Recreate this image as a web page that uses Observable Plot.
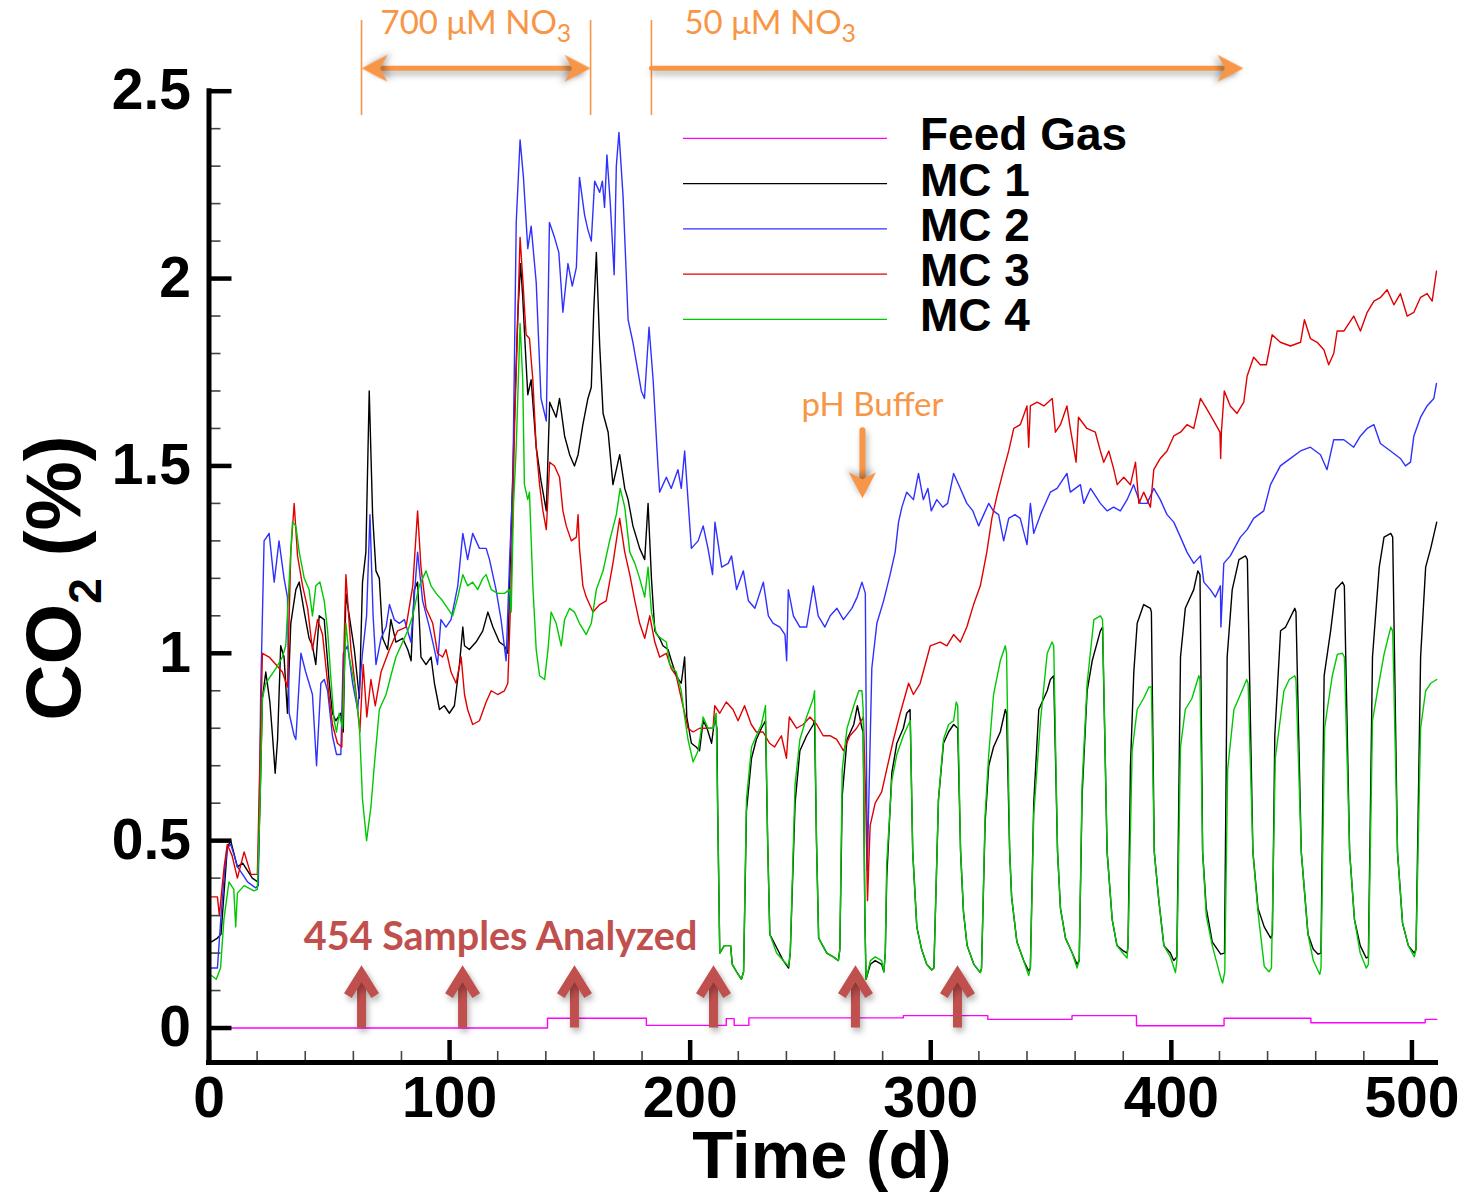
<!DOCTYPE html>
<html><head><meta charset="utf-8">
<script src="https://cdn.jsdelivr.net/npm/d3@7"></script>
<script src="https://cdn.jsdelivr.net/npm/@observablehq/plot@0.6"></script>
<style>
html,body{margin:0;padding:0;background:#fff;}
#chart{position:relative;width:1468px;height:1194px;}
</style></head><body><div id="chart"></div>
<script>
// ---------------- DATA ----------------
const seriesNames = ["Feed Gas", "MC 1", "MC 2", "MC 3", "MC 4"];
const seriesColors = ["#ff00ff", "#000000", "#3030ff", "#e00000", "#00c800"];

const feedGas = [[0,0],[140.7,0],[140.7,0.026],[181.8,0.026],[181.8,0.007],[215,0.007],[215,0.025],[218.3,0.025],[218.3,0.007],[224.4,0.007],[224.4,0.027],[288.6,0.027],[288.6,0.033],[323.7,0.033],[323.7,0.023],[358.7,0.023],[358.7,0.033],[385.5,0.033],[385.5,0.006],[421.9,0.006],[421.9,0.026],[458,0.026],[458,0.014],[505.5,0.014],[505.5,0.023],[510.3,0.023]];

const mc1 = [[1,0.23],[3.5,0.24],[5,0.25],[7.6,0.48],[9,0.50],[11.8,0.43],[14,0.44],[16,0.42],[18,0.40],[20.3,0.39],[21.2,0.60],[22.2,0.88],[23.6,0.95],[25.3,0.87],[26.4,0.78],[27.5,0.68],[28.5,0.77],[29.8,1.02],[31.2,0.99],[32.6,0.84],[34,1.08],[36.1,1.17],[37.5,1.19],[39.6,1.11],[41.6,1.04],[43,1.02],[44.4,0.97],[45.8,1.10],[47.9,1.09],[50,0.92],[51.3,0.84],[52.7,0.82],[54.8,0.84],[55.8,0.79],[56.9,1.16],[58.3,1.10],[60.4,1.01],[62.5,0.88],[63.8,1.19],[65.2,1.27],[66.6,1.70],[68,1.37],[69.4,1.22],[70.8,1.20],[72.2,1.04],[74.2,1.01],[75.6,1.09],[77.7,1.03],[80.5,1.04],[82.6,1.01],[84,0.98],[85.3,1.17],[86.7,1.19],[88.1,0.99],[90.2,0.97],[92.3,0.99],[93.7,0.92],[95.8,0.85],[97.8,0.86],[99.9,0.84],[102,0.86],[104.1,0.97],[105.5,1.07],[106.2,1.02],[108.2,1.01],[111,1.03],[113.8,1.06],[115.9,1.11],[118,1.07],[120.7,1.03],[122.8,1.02],[124.2,1.0],[125.2,1.24],[127,1.64],[128.4,1.91],[129.5,2.04],[130.4,1.95],[131.5,1.81],[132.5,1.69],[133.9,1.73],[136,1.55],[138,1.46],[140.2,1.38],[141.6,1.67],[144.3,1.63],[145.7,1.68],[147.8,1.58],[149.9,1.53],[151.9,1.50],[153.4,1.53],[155.4,1.61],[157.5,1.68],[158.9,1.71],[159.9,1.91],[161,2.07],[162.4,1.82],[163.8,1.64],[165.9,1.59],[167.9,1.45],[168.6,1.47],[170.7,1.53],[172.8,1.44],[174.2,1.41],[176.2,1.34],[179,1.28],[181.1,1.25],[182.5,1.40],[183.9,1.20],[185.3,1.06],[187.3,1.04],[188.7,1.02],[190.8,1.01],[192.2,0.98],[194.2,0.94],[196.3,0.92],[197.7,0.99],[198.6,0.83],[200.5,0.76],[202.5,0.75],[203.9,0.74],[205.4,0.82],[207,0.80],[208.9,0.76],[210.3,0.83],[211.1,0.80],
[211.4,0.60],[212.3,0.20],[214.2,0.22],[216.8,0.22],[217.5,0.17],[219.3,0.15],[221.3,0.13],[222.2,0.15],[223.4,0.58],[225.5,0.72],[227.5,0.77],[229.6,0.80],[231.3,0.82],
[232.2,0.50],[233.1,0.25],[235.9,0.215],[238.7,0.18],[240.9,0.16],[241.6,0.20],[243.6,0.60],[245.6,0.74],[248.4,0.78],[251.2,0.81],[251.7,0.82],
[252.5,0.50],[253.4,0.24],[256.8,0.20],[259.5,0.19],[261.6,0.18],[262.2,0.21],[263.2,0.62],[265.2,0.77],[268,0.81],[269.5,0.86],[271.4,0.80],[271.9,0.79],
[272.6,0.30],[273.1,0.13],[274.9,0.17],[276.9,0.18],[279.6,0.17],[280.5,0.15],[281.1,0.20],[281.7,0.40],[283.8,0.68],[285.9,0.76],[288.6,0.80],[290,0.84],[291.4,0.85],
[292.5,0.47],[294.2,0.27],[296.2,0.21],[298.3,0.17],[300.4,0.155],[301.3,0.16],[303.2,0.61],[305.3,0.76],[307.4,0.79],[309.5,0.81],[311.2,0.80],
[312.4,0.47],[313.6,0.31],[315.1,0.22],[317.9,0.17],[320.6,0.148],[321.1,0.16],[322.6,0.55],[324.1,0.70],[326.1,0.75],[328.9,0.79],[331,0.85],[331.5,0.84],
[332.8,0.47],[333.6,0.35],[335.8,0.23],[338.6,0.18],[340.7,0.152],[341.4,0.16],[342.8,0.60],[344.9,0.85],[348.4,0.90],[349.7,0.93],[351.1,0.94],
[352.7,0.47],[353.9,0.32],[356,0.24],[358.8,0.20],[360.8,0.17],[361.7,0.18],[362.9,0.62],[365,0.90],[367.1,0.98],[370.5,1.06],[371.4,1.07],
[373.3,0.47],[375.4,0.29],[377.4,0.22],[380.2,0.205],[381.6,0.20],[382,0.22],[383,0.70],[384.4,0.95],[385.8,1.08],[388.5,1.13],[391.3,1.12],[391.7,1.11],
[392.9,0.47],[394.8,0.34],[396.9,0.22],[399.6,0.20],[401,0.18],[402.3,0.19],[403.8,0.99],[405.8,1.12],[409.3,1.17],[411,1.22],[411.9,1.21],
[413,0.47],[414.5,0.32],[417,0.23],[420.5,0.197],[422.1,0.20],[423.2,0.99],[425.3,1.17],[428.1,1.25],[430.8,1.26],[431.6,1.25],
[433.9,0.47],[436,0.32],[438.6,0.27],[441.3,0.24],[442,0.25],[443,0.78],[445.4,1.06],[447.5,1.07],[451.3,1.12],[451.8,1.11],
[454,0.47],[456.8,0.25],[459,0.21],[461,0.197],[462.2,0.20],[463.5,0.94],[466.2,1.06],[468.3,1.17],[471.1,1.19],[471.9,1.18],
[474.1,0.47],[476.1,0.29],[478.5,0.22],[481,0.187],[481.9,0.19],[483.6,0.99],[486.4,1.23],[488.4,1.31],[491.2,1.32],[492,1.31],
[494,0.47],[496.1,0.28],[498.5,0.22],[501,0.20],[501.7,0.21],[503.6,0.99],[505.7,1.23],[507.8,1.28],[510.3,1.35]];

const mc2 = [[1,0.16],[3.5,0.16],[4.9,0.29],[6.5,0.42],[7.6,0.48],[9,0.49],[10.5,0.46],[11.8,0.43],[14,0.41],[16,0.39],[19.4,0.374],[20.5,0.38],[21.5,0.9],[22.9,1.30],[25,1.32],[27.1,1.19],[29.1,1.30],[31.2,1.20],[32.6,1.15],[33.3,0.84],[35.4,0.78],[36.1,0.77],[38.2,1.0],[40.2,0.95],[43,0.89],[44.7,0.70],[46.5,0.92],[47.9,0.93],[49.3,0.90],[51.3,0.78],[53,0.73],[54.8,0.73],[55.8,1.0],[57.6,1.02],[59.7,0.92],[61.8,0.85],[63.8,1.0],[65.5,1.10],[66.9,1.37],[68.2,1.10],[69.4,0.97],[71.5,1.04],[73.6,1.07],[75,1.13],[77,1.09],[79.1,1.08],[81.2,1.09],[83.9,1.03],[86.7,1.27],[88.8,1.14],[91.6,1.07],[93.7,1.01],[95,0.97],[96.4,1.09],[98.5,1.07],[100.6,1.09],[103.4,1.18],[105.5,1.32],[107.5,1.25],[109.6,1.32],[112.4,1.28],[115.2,1.28],[116.6,1.25],[119.3,1.17],[121.4,1.09],[123.5,0.98],[124.9,1.24],[126.3,1.46],[127.7,2.15],[129.3,2.37],[130.7,2.27],[132.5,2.08],[133.9,2.14],[136,1.99],[138,1.68],[140.2,1.62],[141.5,2.15],[143.6,2.11],[145.4,2.07],[147.1,1.91],[149.2,2.04],[151,1.98],[152.7,2.03],[154,2.27],[156.1,2.17],[157.5,2.13],[158.9,2.10],[160.3,2.26],[162.4,2.23],[163.5,2.26],[164.4,2.19],[165.4,2.33],[166.8,2.20],[168.4,2.01],[169.3,2.30],[170.4,2.39],[172.1,2.22],[174.2,1.89],[176.2,1.83],[179.7,1.70],[181,1.68],[182.9,1.87],[184.6,1.73],[186.6,1.50],[187.3,1.43],[190.1,1.47],[192.1,1.44],[194.9,1.49],[196.3,1.44],[197.7,1.54],[200.5,1.28],[203.3,1.30],[205.4,1.34],[207.4,1.28],[209.3,1.21],[210.3,1.35],[213.1,1.23],[215.8,1.24],[217.2,1.26],[219.3,1.17],[222.1,1.22],[224.2,1.14],[226.9,1.12],[230.4,1.19],[232.5,1.10],[234.5,1.08],[237.3,1.07],[239.4,1.05],[240.1,0.98],[240.8,1.17],[242.9,1.10],[245.6,1.07],[248.4,1.07],[251.2,1.18],[253.2,1.10],[256,1.07],[258.2,1.10],[261,1.12],[263.7,1.09],[267.2,1.12],[269.4,1.15],[271.4,1.19],[272.8,1.16],[273.6,0.42],[275.5,0.96],[277.6,1.08],[280.4,1.14],[283.1,1.21],[285.2,1.27],[286.6,1.35],[288,1.39],[290,1.43],[292.8,1.41],[294.9,1.48],[296.9,1.41],[298.8,1.44],[300.2,1.38],[302.5,1.41],[305,1.39],[307,1.40],[309.5,1.48],[312.3,1.44],[315,1.40],[317.5,1.38],[319.9,1.34],[322,1.37],[324.1,1.40],[326,1.38],[328.2,1.37],[330.3,1.30],[332.4,1.36],[335,1.37],[337.2,1.36],[340,1.29],[341.4,1.40],[342.8,1.32],[345.6,1.37],[349.7,1.43],[352.5,1.44],[356.6,1.48],[358,1.43],[362.2,1.45],[363.6,1.40],[366.4,1.44],[370.5,1.40],[373.3,1.38],[376,1.39],[378.8,1.38],[381.6,1.41],[384.3,1.45],[387.1,1.40],[389.9,1.40],[392.7,1.44],[395.4,1.41],[398.2,1.37],[401,1.35],[403.8,1.31],[406.5,1.27],[409.3,1.24],[412.1,1.26],[413.5,1.19],[416.2,1.17],[418.3,1.15],[420.4,1.18],[420.6,1.07],[421.8,1.24],[424.5,1.26],[428.7,1.31],[431.5,1.33],[434.2,1.36],[438.4,1.38],[441.2,1.45],[445.3,1.50],[449.5,1.52],[453.7,1.54],[457.8,1.55],[462,1.53],[464.7,1.49],[467.5,1.57],[471.7,1.57],[475.8,1.55],[478.6,1.58],[481.4,1.60],[484.2,1.61],[486.9,1.56],[491.1,1.54],[495.2,1.52],[497.3,1.50],[499.4,1.51],[500.8,1.58],[503.6,1.63],[506.3,1.66],[509.1,1.68],[510.2,1.72]];

const mc3 = [[1,0.35],[3.5,0.35],[4.3,0.30],[5.5,0.38],[6.3,0.43],[7.6,0.49],[9.6,0.46],[11.8,0.40],[14.6,0.47],[17.4,0.41],[20.1,0.41],[21.3,0.75],[22.2,1.0],[25,0.99],[27.8,0.97],[30.5,0.95],[32.6,0.91],[34,1.27],[35.4,1.40],[36.8,1.26],[38.9,1.18],[41,1.12],[43,1.01],[45.1,1.09],[47.2,1.05],[49.3,0.92],[51.3,0.81],[53.4,0.76],[55.2,0.75],[56.2,1.04],[56.9,1.21],[59,1.01],[61,0.90],[62.7,0.79],[64.1,0.97],[65.6,0.83],[67.3,0.93],[69.1,0.86],[71.5,0.95],[75,1.01],[78.4,1.06],[81.9,1.07],[84.7,1.18],[86.7,1.38],[88.1,1.23],[90.2,1.12],[93,1.08],[95,1.0],[97.1,0.99],[98.5,1.01],[100.6,0.95],[102.7,0.92],[104.8,0.99],[106.2,0.89],[107.5,0.85],[109.6,0.81],[112.4,0.82],[115.2,0.87],[117.3,0.90],[120,0.89],[122.8,0.90],[124.2,0.92],[125.6,1.18],[127,1.60],[128.4,1.91],[129.3,2.11],[130.4,2.00],[131.8,1.85],[133.2,1.84],[134.6,1.73],[136,1.55],[137.4,1.45],[138.8,1.38],[140.2,1.33],[141.6,1.51],[143.6,1.50],[145.7,1.47],[147.1,1.38],[148.5,1.34],[150.6,1.30],[152.7,1.31],[153.4,1.37],[154,1.28],[155.4,1.18],[156.8,1.15],[159.6,1.11],[162.4,1.13],[165.1,1.14],[167.9,1.24],[170.7,1.36],[172.8,1.27],[174.9,1.21],[177,1.14],[179,1.08],[181.1,1.04],[183.2,1.10],[185.3,1.03],[187.3,0.99],[190.1,1.0],[192.1,0.96],[194.2,0.94],[197,0.86],[199.1,0.80],[201.2,0.79],[203.9,0.80],[206.7,0.80],[209.5,0.80],[210.2,0.86],[212.3,0.84],[215,0.87],[217.8,0.85],[219.9,0.82],[222.6,0.86],[225.4,0.81],[227.5,0.79],[230.3,0.79],[233,0.76],[235.1,0.75],[237.9,0.78],[240,0.72],[241.2,0.83],[244.2,0.80],[247,0.81],[249.8,0.83],[252.6,0.81],[255.3,0.78],[258.1,0.78],[260.9,0.77],[263.7,0.74],[266.4,0.78],[269.2,0.80],[272,0.83],[273,0.60],[273.7,0.34],[274.8,0.54],[276.9,0.60],[279.6,0.63],[281.7,0.69],[284.5,0.77],[287.3,0.84],[290.8,0.92],[292.8,0.89],[295.6,0.92],[299.8,1.02],[303.9,1.03],[306.7,1.02],[309.5,1.05],[312.3,1.03],[315,1.07],[317.8,1.13],[320.6,1.18],[323.3,1.27],[325.4,1.36],[327.5,1.42],[330.3,1.49],[332.4,1.54],[334.5,1.60],[337.2,1.61],[340,1.66],[340.7,1.55],[341.4,1.66],[344.2,1.67],[347,1.66],[350.5,1.68],[351.8,1.59],[353.9,1.61],[356.6,1.66],[358,1.60],[360.4,1.51],[361.4,1.63],[364.9,1.60],[368.4,1.59],[370.5,1.54],[371.9,1.51],[374,1.54],[376.1,1.49],[377.5,1.45],[380.2,1.47],[383,1.45],[385.1,1.51],[386.5,1.40],[388.5,1.43],[391.3,1.39],[392.7,1.49],[395.4,1.52],[398.2,1.54],[401,1.58],[403.8,1.59],[406.5,1.61],[409.3,1.60],[410.7,1.64],[412.1,1.68],[414.9,1.65],[417.6,1.62],[420.2,1.59],[420.5,1.52],[420.8,1.59],[422,1.70],[424.5,1.66],[427.3,1.64],[430.1,1.67],[431.5,1.74],[434.2,1.79],[437,1.77],[439.5,1.77],[441.9,1.85],[445.3,1.83],[449.5,1.82],[453.7,1.83],[455.3,1.89],[457.8,1.84],[460.6,1.83],[463.4,1.81],[465.4,1.77],[467.5,1.80],[468.9,1.86],[471.7,1.86],[475.8,1.90],[478.6,1.86],[481.4,1.91],[484.2,1.94],[487,1.95],[489.7,1.97],[492.5,1.93],[495.2,1.96],[498,1.90],[500.8,1.91],[503.6,1.95],[506.3,1.96],[508.4,1.94],[510.2,2.02]];

const mc4 = [[1,0.14],[3,0.13],[4.8,0.16],[6.2,0.29],[8.3,0.39],[10.3,0.37],[11.1,0.27],[11.8,0.36],[14.6,0.38],[18.7,0.366],[20.1,0.37],[21.2,0.60],[22.2,0.88],[23.6,0.92],[25.7,0.94],[27.8,0.96],[30.5,0.99],[31.9,1.02],[33.3,1.19],[34.7,1.35],[36.1,1.34],[37.5,1.27],[39.6,1.20],[41.6,1.17],[43,1.10],[44.4,1.18],[46.1,1.19],[47.9,1.14],[49.3,1.06],[50.7,0.93],[52,0.82],[53,0.79],[54.1,0.84],[55.5,0.80],[56.9,1.08],[58.3,0.99],[60.4,0.92],[62.5,0.81],[63.8,0.61],[65.5,0.50],[67.3,0.59],[68.7,0.70],[70.8,0.85],[73.6,0.89],[75.6,0.94],[77.7,0.99],[80.5,1.03],[82.6,1.06],[84.7,1.10],[86,1.14],[87.4,1.18],[90.2,1.22],[92.3,1.18],[94.4,1.16],[97.1,1.14],[99.2,1.12],[101.3,1.10],[103.4,1.15],[105.5,1.21],[107.5,1.18],[109.6,1.19],[111.7,1.17],[113.8,1.20],[115.2,1.21],[117.3,1.17],[120,1.16],[122.8,1.16],[124.9,1.17],[125.6,1.11],[126.6,1.40],[127.7,1.55],[129.3,1.88],[130.4,1.73],[131.1,1.45],[132.5,1.41],[133.2,1.43],[134.6,1.18],[136,1.01],[137.4,0.94],[139.5,0.93],[140.9,1.01],[142.2,1.11],[144.3,1.08],[146.4,1.02],[147.8,1.09],[149.9,1.12],[151.9,1.11],[154,1.08],[156.8,1.05],[158.9,1.08],[161,1.17],[163.8,1.22],[166.5,1.30],[169.3,1.37],[170.9,1.44],[172.8,1.39],[174.9,1.27],[177,1.24],[179,1.20],[181.1,1.15],[182.5,1.23],[183.9,1.11],[186,1.05],[187.9,1.04],[190.1,1.03],[191.5,0.97],[194.2,0.95],[196.3,0.90],[197.7,0.83],[199.1,0.77],[201.2,0.71],[203.3,0.74],[205.4,0.83],[207.4,0.80],[209.5,0.80],[210.8,0.84],
[211.4,0.60],[212.3,0.20],[214.2,0.22],[216.8,0.22],[217.5,0.17],[219.3,0.15],[221.3,0.13],[222.2,0.15],[223.4,0.61],[225.5,0.75],[227.5,0.78],[229.6,0.81],[231.3,0.86],
[232.2,0.50],[233.1,0.25],[235.9,0.20],[238.7,0.18],[240.9,0.165],[241.6,0.20],[243.6,0.65],[245.6,0.77],[248.4,0.83],[251.2,0.88],[251.7,0.90],
[252.5,0.50],[253.4,0.24],[256.8,0.20],[259.5,0.19],[261.6,0.18],[262.2,0.21],[263.2,0.69],[265.2,0.80],[268,0.86],[270.1,0.90],[271.4,0.90],[271.9,0.85],
[272.6,0.30],[273.1,0.13],[274.9,0.18],[276.9,0.19],[279.6,0.18],[280.5,0.15],[281.1,0.20],[281.7,0.44],[283.8,0.66],[285.9,0.73],[288.6,0.78],[290.7,0.81],[291.5,0.82],
[292.5,0.47],[294.2,0.27],[296.2,0.21],[298.3,0.17],[300.4,0.155],[301.3,0.16],[303.2,0.61],[305.3,0.77],[307.4,0.81],[309.5,0.82],[310.6,0.87],[311.2,0.86],
[312.4,0.47],[313.6,0.31],[315.1,0.22],[317.9,0.17],[320.6,0.148],[321.1,0.16],[322.6,0.57],[324.1,0.73],[326.1,0.89],[328.9,0.98],[331,1.02],[331.5,1.0],
[332.8,0.47],[333.6,0.35],[335.8,0.23],[338.6,0.18],[340.7,0.14],[341.4,0.16],[342.8,0.57],[345.6,0.82],[348.4,1.0],[350.4,1.03],[351.1,1.02],
[352.7,0.47],[353.9,0.32],[356,0.24],[358.8,0.20],[360.8,0.16],[361.7,0.18],[362.9,0.65],[365,0.92],[367.8,1.09],[370.5,1.10],[371.4,1.09],
[373.3,0.47],[375.4,0.29],[377.4,0.22],[380.2,0.197],[381.6,0.187],[382,0.22],[383.7,0.74],[385.8,0.85],[388.5,0.88],[390.7,0.91],[391.7,0.91],
[392.9,0.47],[394.8,0.34],[396.9,0.22],[399.6,0.19],[401.7,0.148],[402.3,0.18],[403.8,0.75],[405.8,0.85],[408.6,0.88],[411.4,0.94],[411.9,0.93],
[413,0.47],[414.5,0.30],[417,0.22],[420.5,0.135],[421.3,0.12],[422.2,0.15],[423.4,0.69],[426,0.85],[428.7,0.89],[431.3,0.93],[431.9,0.92],
[433.9,0.47],[436,0.31],[438.6,0.165],[440.6,0.15],[441.6,0.16],[443.2,0.72],[446.8,0.90],[449,0.93],[451.3,0.94],[451.8,0.93],
[454,0.47],[456.8,0.25],[459,0.18],[461.7,0.143],[462.2,0.16],[463.7,0.80],[464.8,0.85],[466.9,0.94],[469,0.997],[471.1,1.00],[471.9,0.99],
[474.1,0.47],[476.1,0.29],[478.5,0.20],[481,0.16],[481.9,0.17],[483.6,0.82],[485.7,0.90],[488.4,0.997],[491.2,1.07],[492,1.06],
[494,0.47],[496.1,0.28],[498.5,0.22],[501,0.19],[501.7,0.21],[503.6,0.80],[505.7,0.90],[507.8,0.92],[510.3,0.93]];

// axis ticks
const xDomain = [0, 510];
const yDomain = [-0.092, 2.5];
const xMajorTicks = [0, 100, 200, 300, 400, 500];
const xMinorTicks = d3.range(20, 500, 20).filter(d => d % 100 !== 0);
const yMajorTicks = [0, 0.5, 1, 1.5, 2, 2.5];
const yMinorTicks = d3.range(1, 25).filter(i => i % 5 !== 0).map(i => i / 10);

// annotations (data coordinates: days, CO2 %)
const nitrateBounds = [63.4, 158.6, 183.9];
const nitrateBoundTop = 2.689, nitrateBoundBottom = 2.435;
const nitrateArrowLevel = 2.561;
const nitrateLabels = ["700 μM NO", "50 μM NO"];
const nitrateSubscript = "3";
const nitrateLabelDays = [71.3, 197.6];
const nitrateLabelLevel = 2.652;
const nitrateDoubleArrow = [63.4, 158.6];
const nitrateSingleArrow = [183.9, 430.0];
const nitrateHeadDays = [63.4, 158.6, 430.0];
const nitrateHeadAngles = [-90, 90, 90];

const bufferLabel = "pH Buffer";
const bufferDay = 271.6;
const bufferLabelDay = 275.8;
const bufferLabelLevel = 1.633;
const bufferArrowFrom = 1.595, bufferArrowTo = 1.414;

const sampleDays = [63.4, 105.4, 151.9, 209.7, 268.7, 311.1];
const sampleArrowTip = 0.145;
const sampleLabel = "454 Samples Analyzed";
const sampleLabelDay = 121.2, sampleLabelLevel = 0.207;

// ---------------- BUILD ----------------
const series = [feedGas, mc1, mc2, mc3, mc4];
const rows = series.flatMap((arr, i) => arr.map(([x, y]) => ({x, y, s: seriesNames[i]})));

const ORANGE = "#f79646", BRICK = "#c0504d";
const W = 1468, H = 1194, ML = 208.5, MR = 32.5, MT = 90.7, MB = 132;
const FW = W - ML - MR, FH = H - MT - MB;
const SANS = "'Liberation Sans', Arial, sans-serif";
const HUMANIST = "Lato, 'Open Sans', sans-serif";

const stealth = {draw(ctx, size) {
  const r = Math.sqrt(size / Math.PI);
  ctx.moveTo(0, 0); ctx.lineTo(r * 0.52, r); ctx.lineTo(0, r * 0.72); ctx.lineTo(-r * 0.52, r); ctx.closePath();
}};
const chevron = {draw(ctx, size) {
  const r = Math.sqrt(size / Math.PI);
  ctx.moveTo(-r * 0.62, r); ctx.lineTo(0, 0); ctx.lineTo(r * 0.62, r);
}};
const tagOrange = () => "orange-arrow";
const tagBrick = () => "brick-arrow";

const svg = Plot.plot({
  width: W, height: H,
  marginLeft: ML, marginRight: MR, marginTop: MT, marginBottom: MB,
  x: {domain: xDomain, axis: null},
  y: {domain: yDomain, axis: null},
  color: {domain: seriesNames, range: seriesColors},
  style: {fontFamily: SANS, background: "#fff", color: "#000"},
  marks: [
    Plot.line(rows, {x: "x", y: "y", z: "s", stroke: "s", strokeWidth: 1.4}),
    // ticks
    Plot.tickY(yMinorTicks, {y: d => d, stroke: "#444", strokeWidth: 1.6, insetRight: FW - 12}),
    Plot.tickY(yMajorTicks, {y: d => d, stroke: "#000", strokeWidth: 4.5, insetRight: FW - 23}),
    Plot.tickX(xMinorTicks, {x: d => d, stroke: "#444", strokeWidth: 1.6, insetTop: FH - 11}),
    Plot.tickX(xMajorTicks, {x: d => d, stroke: "#000", strokeWidth: 4.5, insetTop: FH - 22}),
    // spines
    Plot.ruleX([xDomain[0]], {stroke: "#000", strokeWidth: 5, strokeLinecap: "square"}),
    Plot.ruleY([yDomain[0]], {stroke: "#000", strokeWidth: 5, strokeLinecap: "square"}),
    // tick labels
    Plot.axisY({ticks: yMajorTicks, tickSize: 0, tickPadding: 18, tickFormat: d => String(d), fontSize: 57, fontWeight: "bold", label: null}),
    Plot.axisX({ticks: xMajorTicks, tickSize: 0, tickPadding: 14, tickFormat: d => String(d), fontSize: 57, fontWeight: "bold", label: null}),
    // nitrate annotations
    Plot.ruleX(nitrateBounds, {x: d => d, y1: nitrateBoundBottom, y2: nitrateBoundTop, stroke: ORANGE, strokeWidth: 1.6}),
    Plot.arrow([nitrateDoubleArrow], {x1: d => d[0], x2: d => d[1], y1: nitrateArrowLevel, y2: nitrateArrowLevel, stroke: ORANGE, strokeWidth: 5, headLength: 0, insetStart: 12, insetEnd: 12, ariaLabel: tagOrange}),
    Plot.arrow([nitrateSingleArrow], {x1: d => d[0], x2: d => d[1], y1: nitrateArrowLevel, y2: nitrateArrowLevel, stroke: ORANGE, strokeWidth: 5, headLength: 0, insetEnd: 12, ariaLabel: tagOrange}),
    Plot.dot(nitrateHeadDays, {x: d => d, y: nitrateArrowLevel, rotate: (d, i) => nitrateHeadAngles[i], symbol: stealth, r: 26, fill: ORANGE, stroke: "none", ariaLabel: tagOrange}),
    Plot.text(nitrateLabels, {x: (d, i) => nitrateLabelDays[i], y: nitrateLabelLevel, text: d => d, textAnchor: "start", lineAnchor: "bottom", fontSize: 33, fill: ORANGE, fontFamily: HUMANIST}),
    // pH buffer
    Plot.arrow([bufferDay], {x1: d => d, x2: d => d, y1: bufferArrowFrom, y2: bufferArrowTo, stroke: ORANGE, strokeWidth: 6, headLength: 0, insetEnd: 12, ariaLabel: tagOrange}),
    Plot.dot([bufferDay], {x: d => d, y: bufferArrowTo, rotate: 180, symbol: stealth, r: 26, fill: ORANGE, stroke: "none", ariaLabel: tagOrange}),
    Plot.text([bufferLabel], {x: bufferLabelDay, y: bufferLabelLevel, text: d => d, textAnchor: "middle", lineAnchor: "bottom", fontSize: 33, fill: ORANGE, fontFamily: HUMANIST}),
    // samples
    Plot.ruleX(sampleDays, {x: d => d, y1: 0, y2: sampleArrowTip, stroke: BRICK, strokeWidth: 9, ariaLabel: tagBrick}),
    Plot.dot(sampleDays, {x: d => d, y: sampleArrowTip, symbol: chevron, r: 22, fill: "none", stroke: BRICK, strokeWidth: 9, strokeLinejoin: "miter", ariaLabel: tagBrick}),
    Plot.text([sampleLabel], {x: sampleLabelDay, y: sampleLabelLevel, text: d => d, textAnchor: "middle", lineAnchor: "bottom", fontSize: 39.5, fontWeight: "bold", fill: BRICK, fontFamily: HUMANIST})
  ]
});

const g = d3.select(svg);
// subscripts for NO3
g.selectAll("text").filter(function() { return nitrateLabels.includes(this.textContent); })
  .each(function() {
    d3.select(this).append("tspan").attr("dy", "0.3em").attr("font-size", "0.75em").text(nitrateSubscript);
  });
// soft shadows on annotation arrows
g.selectAll('[aria-label="orange-arrow"], [aria-label="brick-arrow"]').style("filter", "drop-shadow(2px 4px 3px rgba(0,0,0,0.3))");

// axis titles
const yt = g.append("text").attr("transform", "translate(80,578) rotate(-90)")
  .attr("text-anchor", "middle").attr("font-family", SANS).attr("font-size", 78).attr("font-weight", "bold").attr("fill", "#000");
yt.append("tspan").text("CO");
yt.append("tspan").attr("font-size", 46).attr("dy", 21).text("2");
yt.append("tspan").attr("dy", -21).text(" (%)");
g.append("text").attr("x", 822).attr("y", 1178).attr("text-anchor", "middle").attr("font-family", SANS)
  .attr("font-size", 67).attr("font-weight", "bold").attr("fill", "#000").text("Time (d)");

// legend
const legend = g.append("g");
const legendTop = 138.3, legendStep = 45.25, legendX1 = 683, legendX2 = 887, legendTextX = 920;
seriesNames.forEach((name, i) => {
  const y = legendTop + i * legendStep;
  legend.append("line").attr("x1", legendX1).attr("x2", legendX2).attr("y1", y).attr("y2", y)
    .attr("stroke", seriesColors[i]).attr("stroke-width", 1.3);
  legend.append("text").attr("x", legendTextX).attr("y", y + 12).attr("text-anchor", "start")
    .attr("font-family", SANS).attr("font-size", 46).attr("font-weight", "bold").attr("fill", "#000").text(name);
});

document.getElementById("chart").appendChild(svg);
</script>
</body></html>
